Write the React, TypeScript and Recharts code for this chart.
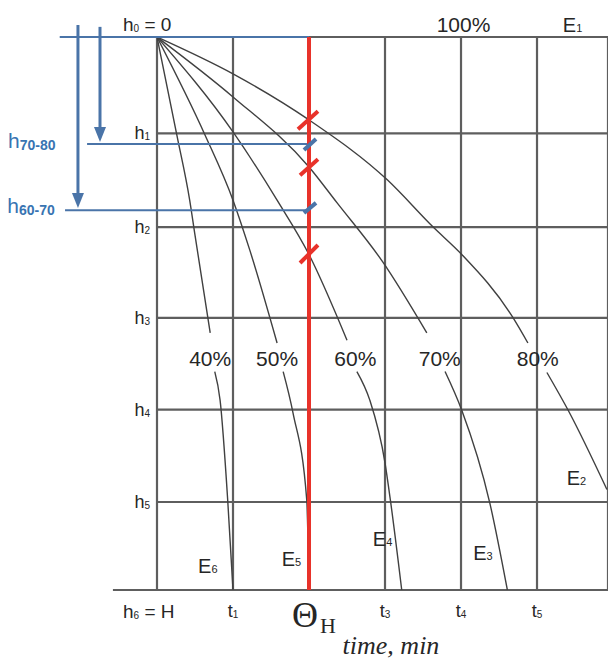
import React from 'react';
import { ComposedChart, Line, XAxis, YAxis, CartesianGrid, ReferenceLine, ReferenceDot } from 'recharts';

type Pt = { t: number; h: number | null };

const SANS = '"Liberation Sans", Arial, sans-serif';
const SERIF = '"Liberation Serif", "Times New Roman", serif';
const INK = '#262626';
const GRID = '#5e5e5e';
const CURVE = '#404040';
const RED = '#e8322a';
const BLUE = '#4a74a8';
const BLUE_TEXT = '#3874b2';

// grid ticks: time in grid steps, depth of layer boundaries h0..h6
const timeTicks = [0, 1, 2, 3, 4, 5];
const depthTicks = [0, 1.045, 2.062, 3.048, 4.044, 5.045, 6];
const timeSubs = ['', '1', 'H', '3', '4', '5'];

// isolines of degree of consolidation (null = gap for the label)
const curve40: Pt[] = [
  { t: 0, h: 0 }, { t: 0.26, h: 1.06 }, { t: 0.43, h: 1.77 }, { t: 0.5, h: 2.15 }, { t: 0.7, h: 3.21 },
  { t: 0.73, h: null },
  { t: 0.76, h: 3.63 }, { t: 0.83, h: 3.94 }, { t: 0.93, h: 5.02 }, { t: 1.0, h: 6.0 },
];
const curve50: Pt[] = [
  { t: 0, h: 0 }, { t: 0.63, h: 1.06 }, { t: 1.0, h: 1.77 }, { t: 1.22, h: 2.31 }, { t: 1.58, h: 3.32 },
  { t: 1.62, h: null },
  { t: 1.66, h: 3.63 }, { t: 1.79, h: 4.08 }, { t: 1.97, h: 5.02 }, { t: 2.0, h: 6.0 },
];
const curve60: Pt[] = [
  { t: 0, h: 0 }, { t: 1.0, h: 1.03 }, { t: 1.58, h: 1.77 }, { t: 2.0, h: 2.36 }, { t: 2.5, h: 3.29 },
  { t: 2.56, h: null },
  { t: 2.63, h: 3.63 }, { t: 2.8, h: 3.94 }, { t: 3.0, h: 4.62 }, { t: 3.07, h: 5.02 }, { t: 3.22, h: 6.0 },
];
const curve70: Pt[] = [
  { t: 0, h: 0 }, { t: 1.0, h: 0.65 }, { t: 2.0, h: 1.41 }, { t: 2.37, h: 1.8 }, { t: 2.97, h: 2.44 }, { t: 3.55, h: 3.21 },
  { t: 3.67, h: null },
  { t: 3.79, h: 3.63 }, { t: 4.01, h: 4.05 }, { t: 4.38, h: 5.06 }, { t: 4.61, h: 6.0 },
];
const curve80: Pt[] = [
  { t: 0, h: 0 }, { t: 1.0, h: 0.4 }, { t: 2.0, h: 0.9 }, { t: 3.03, h: 1.55 }, { t: 3.63, h: 2.06 },
  { t: 4.01, h: 2.36 }, { t: 4.68, h: 3.04 }, { t: 4.88, h: 3.32 },
  { t: 5.0, h: null },
  { t: 5.13, h: 3.64 }, { t: 5.41, h: 4.05 }, { t: 5.92, h: 4.91 },
];
const curves = [curve40, curve50, curve60, curve70, curve80];

const percentLabels = [
  { text: '40%', t: 0.7 },
  { text: '50%', t: 1.58 },
  { text: '60%', t: 2.61 },
  { text: '70%', t: 3.72 },
  { text: '80%', t: 5.01 },
];
const percentRow = 3.57;

const eLabels = [
  { sub: '1', t: 5.34, h: -0.054 },
  { sub: '2', t: 5.39, h: 4.86 },
  { sub: '3', t: 4.16, h: 5.67 },
  { sub: '4', t: 2.84, h: 5.52 },
  { sub: '5', t: 1.64, h: 5.74 },
  { sub: '6', t: 0.54, h: 5.82 },
];

// blue depth markers h70-80 and h60-70
const blueLevels = [
  { sub: '70-80', h: 1.16, from: -0.92, labelT: -1.96, labelH: 1.2 },
  { sub: '60-70', h: 1.88, from: -1.21, labelT: -1.97, labelH: 1.91 },
];
const arrows = [
  { t: -1.04, from: -0.13, to: 1.855 },
  { t: -0.75, from: -0.11, to: 1.14 },
];
const redMarks = [
  [{ t: 1.855, h: 1.0 }, { t: 2.118, h: 0.805 }],
  [{ t: 1.882, h: 1.5 }, { t: 2.118, h: 1.326 }],
  [{ t: 1.882, h: 2.452 }, { t: 2.118, h: 2.257 }],
];
const blueMarks = [
  [{ t: 1.934, h: 1.226 }, { t: 2.092, h: 1.107 }],
  [{ t: 1.934, h: 1.91 }, { t: 2.092, h: 1.8 }],
];

const XTick = (props: any) => {
  const { x, y, payload } = props;
  const v = payload.value;
  if (v === 0) return <g />;
  if (v === 2) {
    return (
      <g>
        <text x={x - 4} y={y + 37} textAnchor="middle" fontFamily={SERIF} fontSize={36} fill={INK}>Θ</text>
        <text x={x + 11} y={y + 43} fontFamily={SERIF} fontSize={22} fill={INK}>{timeSubs[v]}</text>
      </g>
    );
  }
  return (
    <text x={x} y={y + 27} textAnchor="middle" fontFamily={SANS} fontSize={18} fill={INK}>
      t<tspan fontSize={10} dy={1}>{timeSubs[v]}</tspan>
    </text>
  );
};

const YTick = (props: any) => {
  const { x, y, payload } = props;
  const i = depthTicks.indexOf(payload.value);
  if (i === 0 || i === 6) {
    return (
      <text x={x - 34} y={i === 0 ? y - 6 : y + 28} fontFamily={SANS} fontSize={19} fill={INK}>
        h<tspan fontSize={10} dy={1}>{i}</tspan>
        <tspan dy={-1}>{i === 0 ? ' = 0' : ' = H'}</tspan>
      </text>
    );
  }
  return (
    <text x={x - 7} y={y + 6} textAnchor="end" fontFamily={SANS} fontSize={18} fill={INK}>
      h<tspan fontSize={10} dy={1}>{i}</tspan>
    </text>
  );
};

const arrowShape = (p: any) => {
  const { x1, y1, x2, y2 } = p;
  return (
    <g>
      <line x1={x1} y1={y1} x2={x2} y2={y2 - 12} stroke={BLUE} strokeWidth={3} />
      <polygon points={`${x2 - 6},${y2 - 15} ${x2 + 6},${y2 - 15} ${x2},${y2}`} fill={BLUE} />
    </g>
  );
};

export default function App() {
  return (
    <div style={{ position: 'absolute', left: 0, top: 0, background: '#fff' }}>
      <ComposedChart width={608} height={659} margin={{ top: 37, right: 0, bottom: 39, left: 97 }}>
        <XAxis
          type="number"
          dataKey="t"
          domain={[0, 5.934]}
          allowDataOverflow
          ticks={timeTicks}
          tick={<XTick />}
          tickLine={false}
          axisLine={false}
          tickSize={0}
          tickMargin={0}
          height={30}
          interval={0}
          label={{
            value: 'time, min',
            content: (lp: any) => (
              <text
                x={lp.viewBox.x + 234}
                y={lp.viewBox.y + 64}
                textAnchor="middle"
                fontFamily={SERIF}
                fontStyle="italic"
                fontSize={26}
                fill={INK}
              >
                time, min
              </text>
            ),
          }}
        />
        <YAxis
          type="number"
          dataKey="h"
          domain={[0, 6]}
          reversed
          allowDataOverflow
          ticks={depthTicks}
          tick={<YTick />}
          tickLine={false}
          axisLine={false}
          tickSize={0}
          tickMargin={0}
          width={60}
          interval={0}
        />
        <CartesianGrid stroke={GRID} strokeWidth={2.2} />

        {curves.map((c, i) => (
          <Line
            key={i}
            data={c}
            dataKey="h"
            type="monotone"
            stroke={CURVE}
            strokeWidth={1.4}
            dot={false}
            activeDot={false}
            isAnimationActive={false}
          />
        ))}

        {/* extensions and blue markers */}
        <ReferenceLine segment={[{ x: -0.58, y: 6 }, { x: 0, y: 6 }]} stroke={GRID} strokeWidth={2.2} ifOverflow="visible" />
        <ReferenceLine segment={[{ x: -1.28, y: 0 }, { x: 2, y: 0 }]} stroke={BLUE} strokeWidth={2} ifOverflow="visible" />
        {blueLevels.map((b) => (
          <ReferenceLine
            key={b.sub}
            segment={[{ x: b.from, y: b.h }, { x: 2, y: b.h }]}
            stroke={BLUE}
            strokeWidth={2}
            ifOverflow="visible"
          />
        ))}
        {arrows.map((a, i) => (
          <ReferenceLine
            key={'a' + i}
            segment={[{ x: a.t, y: a.from }, { x: a.t, y: a.to }]}
            shape={arrowShape}
            ifOverflow="visible"
          />
        ))}

        <ReferenceLine x={2} stroke={RED} strokeWidth={4} />
        {redMarks.map((m, i) => (
          <ReferenceLine
            key={'r' + i}
            segment={[{ x: m[0].t, y: m[0].h }, { x: m[1].t, y: m[1].h }]}
            stroke={RED}
            strokeWidth={4}
            ifOverflow="visible"
          />
        ))}
        {blueMarks.map((m, i) => (
          <ReferenceLine
            key={'b' + i}
            segment={[{ x: m[0].t, y: m[0].h }, { x: m[1].t, y: m[1].h }]}
            stroke={BLUE}
            strokeWidth={4}
            ifOverflow="visible"
          />
        ))}

        {/* text annotations */}
        {percentLabels.map((p) => (
          <ReferenceDot
            key={p.text}
            x={p.t}
            y={percentRow}
            ifOverflow="visible"
            shape={(dp: any) => (
              <text x={dp.cx} y={dp.cy} textAnchor="middle" fontFamily={SANS} fontSize={21} fill={INK}>
                {p.text}
              </text>
            )}
          />
        ))}
        <ReferenceDot
          x={3.68}
          y={-0.054}
          ifOverflow="visible"
          shape={(dp: any) => (
            <text x={dp.cx} y={dp.cy} fontFamily={SANS} fontSize={21} fill={INK}>100%</text>
          )}
        />
        {eLabels.map((e) => (
          <ReferenceDot
            key={e.sub}
            x={e.t}
            y={e.h}
            ifOverflow="visible"
            shape={(dp: any) => (
              <text x={dp.cx} y={dp.cy} fontFamily={SANS} fontSize={20} fill={INK}>
                E<tspan fontSize={11}>{e.sub}</tspan>
              </text>
            )}
          />
        ))}
        {blueLevels.map((b) => (
          <ReferenceDot
            key={'l' + b.sub}
            x={b.labelT}
            y={b.labelH}
            ifOverflow="visible"
            shape={(dp: any) => (
              <text x={dp.cx} y={dp.cy} fontFamily={SANS} fontSize={21} fill={BLUE_TEXT}>
                h<tspan fontSize={14} fontWeight="bold" dy={2}>{b.sub}</tspan>
              </text>
            )}
          />
        ))}
      </ComposedChart>
    </div>
  );
}
